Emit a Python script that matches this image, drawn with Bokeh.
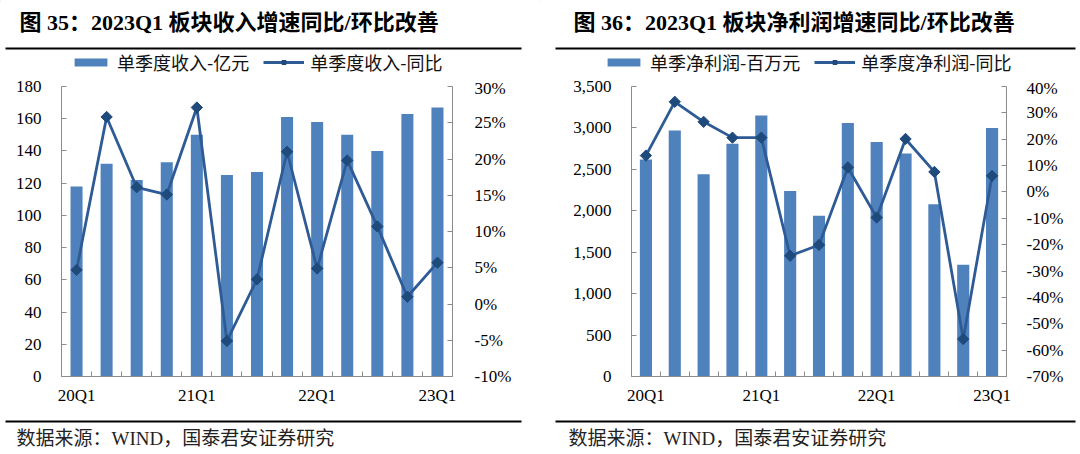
from bokeh.plotting import figure
from bokeh.models import (Range1d, LinearAxis, FixedTicker, PrintfTickFormatter,
                          NumeralTickFormatter, Legend, LegendItem)
from bokeh.layouts import row, column
from bokeh.core.properties import value
from bokeh.embed import file_html
from bokeh.resources import INLINE
import numpy as np

# ---------------- data ----------------
quarters = ["20Q1", "20Q2", "20Q3", "20Q4", "21Q1", "21Q2", "21Q3", "21Q4",
            "22Q1", "22Q2", "22Q3", "22Q4", "23Q1"]
shown_quarters = ["20Q1", "21Q1", "22Q1", "23Q1"]

revenue = [118, 132, 122, 133, 150, 125, 127, 161, 158, 150, 140, 163, 167]          # 亿元
revenue_yoy = [4.7, 25.8, 16.1, 15.1, 27.1, -5.1, 3.4, 21.0, 4.9, 19.8, 10.7, 1.0, 5.7]  # %

profit = [2620, 2970, 2440, 2810, 3150, 2240, 1940, 3060, 2830, 2690, 2080, 1350, 3000]  # 百万元
profit_yoy = [13.8, 34.2, 26.6, 20.6, 20.6, -24.2, -20.1, 9.3, -9.7, 20.1, 7.6, -55.8, 6.1]  # %

rev_ticks = list(range(0, 181, 20))
rev_pct_ticks = list(range(-10, 31, 5))
profit_ticks = list(range(0, 3501, 500))
profit_pct_ticks = list(range(-70, 41, 10))

titles = ["图 35：2023Q1 板块收入增速同比/环比改善", "图 36：2023Q1 板块净利润增速同比/环比改善"]
bar_labels = ["单季度收入-亿元", "单季净利润-百万元"]
line_labels = ["单季度收入-同比", "单季度净利润-同比"]
source_text = "数据来源：WIND，国泰君安证券研究"

# ---------------- style ----------------
BAR = "#4F81BD"
LINE = "#2E5B95"
MARK = "#1F4A7C"
AXIS = "#8C8C8C"
SERIF = "Liberation Serif, Noto Sans CJK SC"
CJK = "Noto Sans CJK SC"

W = 540
HEAD_H = 78
CHART_H = 332
FOOT_H = 44
FRAME_TOP = 86      # page y
FRAME_BOTTOM = 376  # page y


def deco_fig(x0, y0, h):
    f = figure(width=W, height=h, output_backend="svg", toolbar_location=None,
               x_range=Range1d(x0, x0 + W), y_range=Range1d(y0 + h, y0),
               x_axis_location=None, y_axis_location=None, title=None,
               min_border_left=0, min_border_right=0, min_border_top=0, min_border_bottom=0,
               frame_align=False)
    f.outline_line_color = None
    f.grid.visible = False
    return f


def style_axis(ax, standoff):
    ax.axis_line_color = AXIS
    ax.major_label_text_font = SERIF
    ax.major_label_text_font_size = "17px"
    ax.major_label_text_color = "black"
    ax.major_label_standoff = standoff


def panel(x0, mbl, mbr, bars, line_vals, yr, pct_r, yticks, pticks, yfmt,
          title, bar_label, line_label, bar_w, rule_x0, rule_x1, title_x, legend_x,
          foot_x, lstand, rstand):
    # ---- header: title + rule + legend ----
    head = deco_fig(x0, 0, HEAD_H)
    head.text(x=[title_x], y=[22], text=[title], text_font=value(SERIF),
              text_font_size=value("22px"), text_font_style=value("bold"),
              text_color="black", text_baseline=value("middle"), text_align=value("left"))
    head.segment(x0=[rule_x0], y0=[48], x1=[rule_x1], y1=[48], line_color="black", line_width=2)
    # legend keys: same styles as the chart glyphs, placed outside the visible range
    off = x0 - 1000
    kb = head.vbar(x=[off], top=[1], width=1, bottom=0, fill_color=BAR, line_color=None)
    kl = head.line(x=[off, off + 1], y=[1, 1], line_color=LINE, line_width=2.8)
    ks = head.scatter(x=[off], y=[1], marker="square", angle=np.pi / 4, size=8,
                      fill_color=MARK, line_color=MARK)
    legend = Legend(items=[LegendItem(label=bar_label, renderers=[kb]),
                           LegendItem(label=line_label, renderers=[kl, ks])],
                    orientation="horizontal", location=(legend_x - x0, 3),
                    padding=0, margin=0, spacing=14, label_standoff=6,
                    glyph_width=41, glyph_height=10,
                    border_line_color=None, background_fill_alpha=0,
                    label_text_font=CJK, label_text_font_size="18px",
                    label_text_color="#111111")
    head.add_layout(legend, "center")

    # ---- chart ----
    x = list(range(len(quarters)))
    p = figure(width=W, height=CHART_H, output_backend="svg", toolbar_location=None,
               x_range=Range1d(-0.5, len(quarters) - 0.5), y_range=Range1d(*yr),
               min_border_left=mbl, min_border_right=mbr,
               min_border_top=FRAME_TOP - HEAD_H,
               min_border_bottom=HEAD_H + CHART_H - FRAME_BOTTOM,
               title=None, frame_align=False)
    p.extra_y_ranges = {"pct": Range1d(*pct_r)}
    p.outline_line_color = None
    p.grid.visible = False

    xa = p.xaxis[0]
    xa.ticker = FixedTicker(ticks=[i for i, q in enumerate(quarters) if q in shown_quarters],
                            minor_ticks=[i - 0.5 for i in range(len(quarters) + 1)])
    xa.major_label_overrides = {i: q for i, q in enumerate(quarters) if q in shown_quarters}
    xa.major_tick_in = 0
    xa.major_tick_out = 0
    xa.minor_tick_in = 5
    xa.minor_tick_out = 0
    xa.minor_tick_line_color = AXIS
    style_axis(xa, 9)

    ya = p.yaxis[0]
    ya.ticker = FixedTicker(ticks=yticks)
    ya.formatter = yfmt
    ya.major_tick_in = 5
    ya.major_tick_out = 0
    ya.major_tick_line_color = AXIS
    ya.minor_tick_line_color = None
    style_axis(ya, lstand)

    ra = LinearAxis(y_range_name="pct", ticker=FixedTicker(ticks=pticks),
                    formatter=PrintfTickFormatter(format="%d%%"))
    ra.major_tick_in = 5
    ra.major_tick_out = 0
    ra.major_tick_line_color = AXIS
    ra.minor_tick_line_color = None
    style_axis(ra, rstand)
    p.add_layout(ra, "right")

    p.vbar(x=x, top=bars, width=bar_w, bottom=0, fill_color=BAR, line_color=None)
    p.line(x=x, y=line_vals, y_range_name="pct", line_color=LINE, line_width=2.8)
    p.scatter(x=x, y=line_vals, y_range_name="pct", marker="square", angle=np.pi / 4,
              size=8, fill_color=MARK, line_color=MARK)

    # ---- footer: rule + source ----
    foot = deco_fig(x0, HEAD_H + CHART_H, FOOT_H)
    foot.segment(x0=[rule_x0], y0=[421], x1=[rule_x1], y1=[421], line_color="black", line_width=2)
    foot.text(x=[foot_x], y=[438], text=[source_text], text_font=value(SERIF),
              text_font_size=value("19px"), text_color="#222222",
              text_baseline=value("middle"), text_align=value("left"))
    return column(head, p, foot, spacing=0)


c1 = panel(0, 61, 88, revenue, revenue_yoy, (0, 180), (-10, 30), rev_ticks, rev_pct_ticks,
           NumeralTickFormatter(format="0"), titles[0], bar_labels[0], line_labels[0], 0.4,
           5, 521, 19, 70, 16, 20, 22)
c2 = panel(540, 91, 74, profit, profit_yoy, (0, 3500), (-70, 40), profit_ticks, profit_pct_ticks,
           NumeralTickFormatter(format="0,0"), titles[1], bar_labels[1], line_labels[1], 0.42,
           555, 1075, 573, 603, 568, 20, 20)

layout = row(c1, c2, spacing=0)
open("out.html", "w").write(file_html(layout, INLINE))
